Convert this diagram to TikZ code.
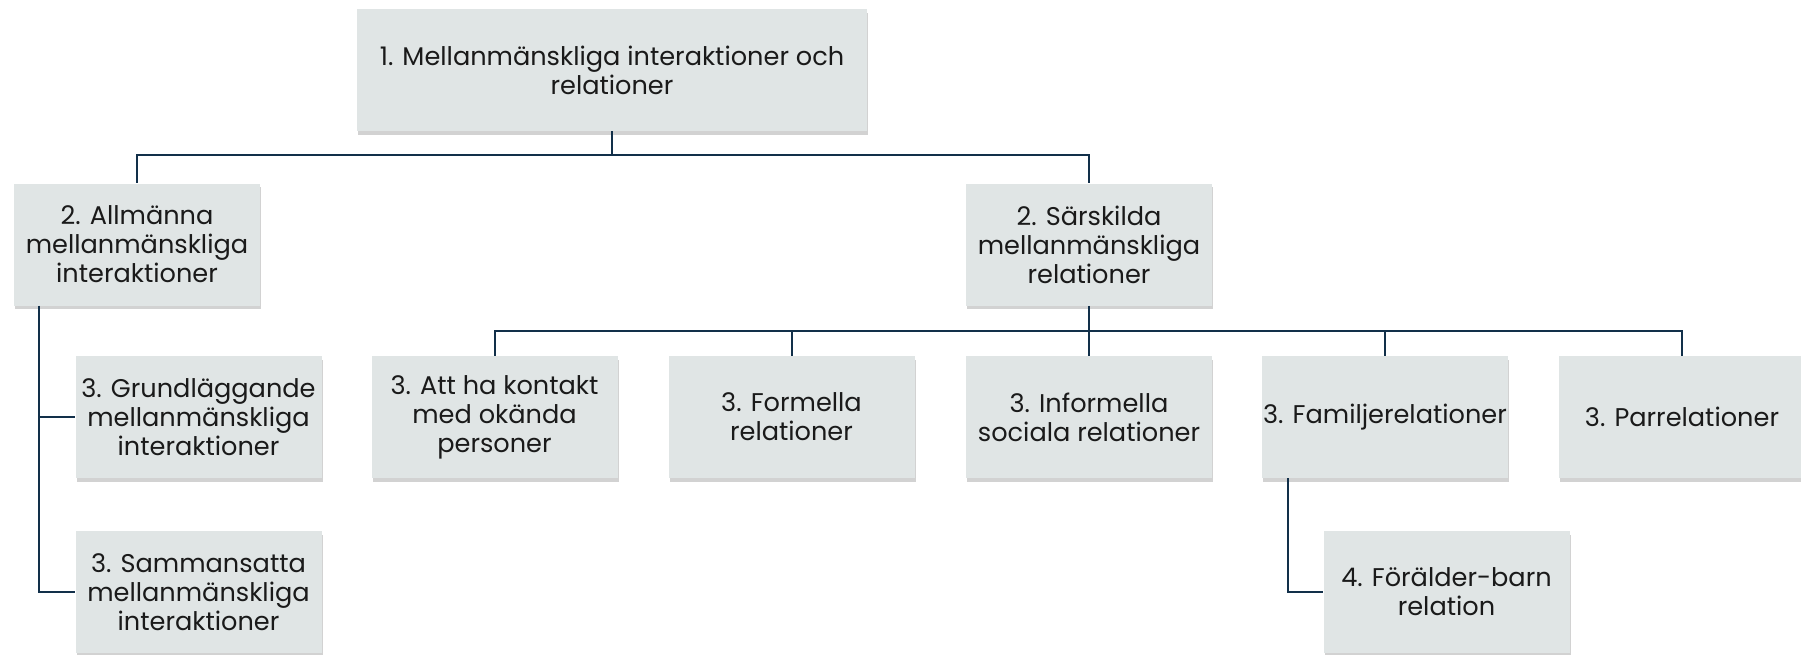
\documentclass[tikz,border=0pt]{standalone}
\usepackage{fontspec}
\setmainfont{Poppins}
\usetikzlibrary{shadows,calc}
\definecolor{boxfill}{HTML}{E0E5E5}
\definecolor{linecol}{HTML}{12304A}
\definecolor{txtcol}{HTML}{1A1A1A}
\begin{document}
\begin{tikzpicture}[x=0.5pt,y=-0.5pt,
  box/.style={fill=boxfill, draw=none, minimum width=123pt, minimum height=61pt,
    align=center, inner sep=0pt, text=txtcol,
    font=\fontsize{12.8}{14.5}\selectfont,
    drop shadow={shadow xshift=0.5pt, shadow yshift=-1.8pt, opacity=0.25, fill=black!70}},
  wide/.style={box, minimum width=255pt},
  conn/.style={draw=linecol, line width=1pt}]
\useasboundingbox (0,0) rectangle (1801,654);
\node[wide] (top) at (612,70) {1. Mellanmänskliga interaktioner och\\relationer};
\node[box] (allm) at (137,244.5) {2. Allmänna\\mellanmänskliga\\interaktioner};
\node[box] (sars) at (1089,244.5) {2. Särskilda\\mellanmänskliga\\relationer};
\node[box] (grund) at (198.5,417) {3. Grundläggande\\mellanmänskliga\\interaktioner};
\node[box] (samman) at (198.5,592) {3. Sammansatta\\mellanmänskliga\\interaktioner};
\node[box] (att) at (494.5,417) {3. Att ha kontakt\\med okända\\personer};
\node[box] (form) at (791.5,417) {3. Formella\\relationer};
\node[box] (inf) at (1089,417) {3. Informella\\sociala relationer};
\node[box] (fam) at (1385,417) {3. Familjerelationer};
\node[box] (parr) at (1682,417) {3. Parrelationer};
\node[box] (forb) at (1446.5,592) {4. Förälder-barn\\relation};
\coordinate (b1) at (612,155);
\coordinate (b2) at (1089,331);
\draw[conn] (top.south) -- (b1) -| (allm.north);
\draw[conn] (b1) -| (sars.north);
\draw[conn] (sars.south) -- (b2);
\draw[conn] (b2) -| (att.north);
\draw[conn] (b2) -| (form.north);
\draw[conn] (b2) -- (inf.north);
\draw[conn] (b2) -| (fam.north);
\draw[conn] (b2) -| (parr.north);
\coordinate (s1) at ($(allm.south west)+(25,0)$);
\draw[conn] (s1) |- (grund.west);
\draw[conn] (s1) |- (samman.west);
\coordinate (s2) at ($(fam.south west)+(26,0)$);
\draw[conn] (s2) |- (forb.west);
\end{tikzpicture}
\end{document}
